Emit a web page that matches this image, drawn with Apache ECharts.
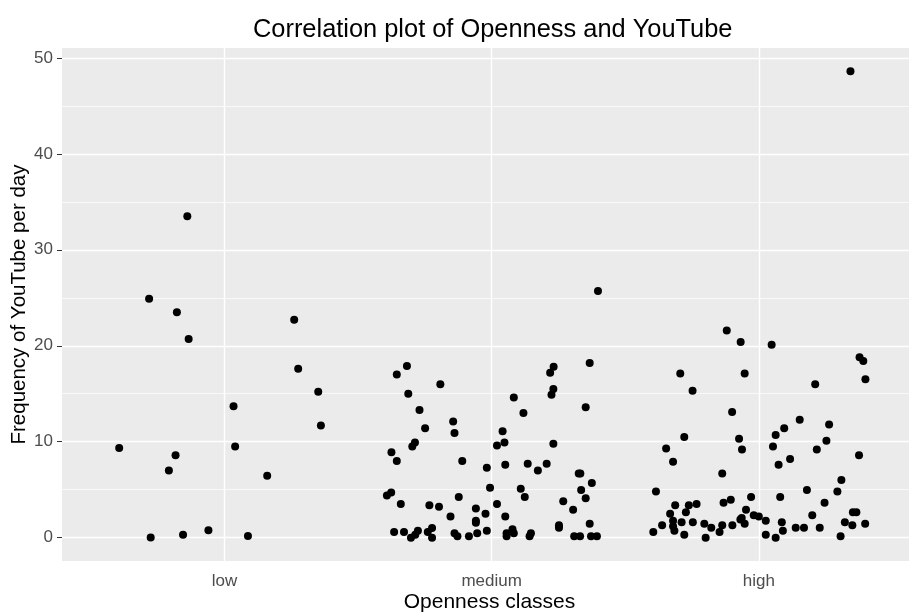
<!DOCTYPE html>
<html>
<head>
<meta charset="utf-8">
<title>Correlation plot of Openness and YouTube</title>
<script src="https://cdn.jsdelivr.net/npm/echarts@6/dist/echarts.min.js"></script>
<style>
  html, body { margin: 0; padding: 0; background: #ffffff; overflow: hidden; }
  #chart { width: 909px; height: 612px; }
</style>
</head>
<body>
<div id="chart"></div>
<script>
// Openness classes on the x axis (positions 1, 2, 3)
var categories = ['low', 'medium', 'high'];

// Horizontal jitter of each point around its class centre, and YouTube frequency per day
var lowJitter = [-0.139, -0.282, -0.178, -0.134, 0.261, 0.276, 0.351, 0.034, 0.361, -0.394,
  0.040, -0.183, -0.208, 0.160, -0.276, -0.155, -0.060, 0.088];
var lowValues = [33.5, 24.9, 23.5, 20.7, 22.7, 17.6, 15.2, 13.7, 11.7, 9.34,
  9.5, 8.6, 7.0, 6.46, 0.03, 0.3, 0.77, 0.17];

var mediumJitter = [0.398, 0.367, -0.317, -0.355, 0.232, 0.219, -0.192, -0.312, 0.231, 0.224,
  0.083, -0.270, 0.352, 0.119, -0.144, -0.249, -0.139, 0.041, -0.287, -0.297,
  0.020, 0.048, 0.231, -0.375, -0.355, -0.110, 0.051, 0.135, 0.206, 0.173,
  -0.018, 0.326, 0.332, 0.375, -0.006, 0.109, 0.335, -0.376, -0.392, 0.124,
  -0.123, 0.352, 0.268, -0.340, 0.020, -0.233, -0.197, -0.059, 0.305, -0.023,
  -0.154, 0.051, -0.059, -0.059, 0.252, 0.252, 0.367, -0.365, -0.328, -0.302,
  -0.276, -0.286, -0.239, -0.223, -0.223, -0.139, -0.128, -0.085, -0.054, -0.018,
  0.056, 0.056, 0.078, 0.083, 0.147, 0.142, 0.309, 0.331, 0.372, 0.394];
var mediumValues = [25.7, 18.2, 17.9, 17.0, 17.8, 17.2, 16.0, 15.0, 15.5, 14.9,
  14.6, 13.3, 13.6, 13.0, 12.1, 11.4, 10.9, 11.1, 9.93, 9.5,
  9.6, 9.93, 9.8, 8.9, 8.0, 8.0, 7.6, 7.7, 7.7, 7.0,
  7.3, 6.7, 6.7, 5.7, 5.2, 5.1, 4.97, 4.7, 4.4, 4.24,
  4.24, 4.1, 3.8, 3.5, 3.5, 3.37, 3.23, 3.05, 2.9, 2.5,
  2.2, 2.2, 1.77, 1.55, 1.3, 1.04, 1.46, 0.59, 0.59, 0.0,
  0.73, 0.3, 0.59, 1.0, 0.0, 0.45, 0.14, 0.14, 0.45, 0.73,
  0.45, 0.14, 0.87, 0.45, 0.45, 0.14, 0.14, 0.14, 0.14, 0.14];

var highJitter = [-0.120, -0.068, 0.048, 0.377, 0.391, -0.294, -0.053, 0.399, 0.211, -0.248,
  -0.100, 0.153, 0.263, 0.095, 0.063, -0.279, -0.074, 0.253, -0.347, -0.063,
  0.053, 0.217, 0.375, -0.321, 0.074, 0.117, -0.137, 0.309, -0.385, 0.180,
  0.294, -0.029, 0.080, -0.105, -0.132, 0.246, -0.313, -0.262, -0.233, -0.048,
  -0.064, -0.053, -0.332, -0.273, -0.019, 0.000, 0.026, 0.086, 0.090, 0.026,
  0.063, 0.200, 0.352, 0.365, 0.322, 0.350, 0.398, 0.306, 0.228, 0.169,
  0.138, -0.362, -0.395, -0.321, -0.321, -0.316, -0.289, -0.279, -0.247, -0.204,
  -0.178, -0.199, -0.147, -0.137, -0.099, -0.069, 0.343];
var highValues = [21.6, 20.4, 20.1, 18.8, 18.4, 17.1, 17.1, 16.5, 16.0, 15.3,
  13.1, 12.3, 11.8, 11.4, 10.7, 10.5, 10.3, 10.1, 9.3, 9.2,
  9.5, 9.2, 8.6, 7.9, 7.6, 8.2, 6.7, 6.0, 4.8, 4.97,
  4.8, 4.24, 4.24, 3.96, 3.65, 3.65, 3.37, 3.37, 3.5, 2.9,
  2.05, 1.46, 2.5, 2.64, 2.33, 2.2, 1.77, 1.6, 0.73, 0.3,
  0.0, 2.33, 2.64, 2.64, 1.6, 1.3, 1.46, 0.14, 1.04, 1.04,
  1.04, 1.3, 0.59, 1.77, 1.2, 0.73, 1.6, 0.3, 1.6, 1.46,
  1.04, 0.0, 0.59, 1.3, 1.3, 1.9, 48.6];

// Tick labels
var yTicks = [0, 10, 20, 30, 40, 50];
var yMinorLines = [5, 15, 25, 35, 45];
var xTicks = [1, 2, 3];

function points(jitter, values, classIndex) {
  return values.map(function (v, i) { return [classIndex + 1 + jitter[i], v]; });
}

var allPoints = []
  .concat(points(lowJitter, lowValues, 0))
  .concat(points(mediumJitter, mediumValues, 1))
  .concat(points(highJitter, highValues, 2));

var textFont = 'Liberation Sans, Arial, sans-serif';

// White panel grid: thin minor lines, wider major lines
var gridLines = []
  .concat(yMinorLines.map(function (v) { return { yAxis: v, lineStyle: { width: 0.7 } }; }))
  .concat(yTicks.map(function (v) { return { yAxis: v, lineStyle: { width: 1.4 } }; }))
  .concat(xTicks.map(function (v) { return { xAxis: v, lineStyle: { width: 1.4 } }; }));

var chart = echarts.init(document.getElementById('chart'), null, { renderer: 'canvas' });

chart.setOption({
  animation: false,
  backgroundColor: '#ffffff',
  title: {
    text: 'Correlation plot of Openness and YouTube',
    left: 248,
    top: 12,
    textStyle: { fontFamily: textFont, fontSize: 25.4, fontWeight: 'normal', color: '#000000' }
  },
  // the panel runs a few pixels past the right edge of the canvas
  grid: {
    left: 62, right: -8, top: 48, bottom: 51,
    outerBoundsMode: 'none',
    containLabel: false,
    show: true, backgroundColor: '#EBEBEB', borderWidth: 0
  },
  xAxis: {
    type: 'value',
    min: 0.392,
    max: 3.592,
    name: 'Openness classes',
    nameLocation: 'middle',
    nameGap: 31,
    nameMoveOverlap: false,
    nameTextStyle: { fontFamily: textFont, fontSize: 21, color: '#000000' },
    axisLine: { show: false },
    axisTick: { show: true, length: 5, customValues: xTicks, lineStyle: { color: '#333333', width: 1 } },
    axisLabel: {
      customValues: xTicks,
      margin: 12,
      fontFamily: textFont, fontSize: 17, color: '#4D4D4D',
      formatter: function (v) { return categories[Math.round(v) - 1] || ''; }
    },
    splitLine: { show: false }
  },
  yAxis: {
    type: 'value',
    min: -2.43,
    max: 51.03,
    name: 'Frequency of YouTube per day',
    nameLocation: 'middle',
    nameGap: 32,
    nameMoveOverlap: false,
    nameTextStyle: { fontFamily: textFont, fontSize: 20.5, color: '#000000' },
    axisLine: { show: false },
    axisTick: { show: true, length: 5, customValues: yTicks, lineStyle: { color: '#333333', width: 1 } },
    axisLabel: {
      customValues: yTicks,
      margin: 9,
      fontFamily: textFont, fontSize: 17, color: '#4D4D4D'
    },
    splitLine: { show: false }
  },
  series: [
    {
      type: 'scatter',
      data: [],
      silent: true,
      z: 1,
      markLine: {
        silent: true,
        z: 1,
        symbol: ['none', 'none'],
        label: { show: false },
        lineStyle: { color: '#ffffff', type: 'solid' },
        data: gridLines
      }
    },
    {
      type: 'scatter',
      data: allPoints,
      symbol: 'circle',
      symbolSize: 8,
      z: 10,
      itemStyle: { color: '#000000', opacity: 1 }
    }
  ]
});
</script>
</body>
</html>
